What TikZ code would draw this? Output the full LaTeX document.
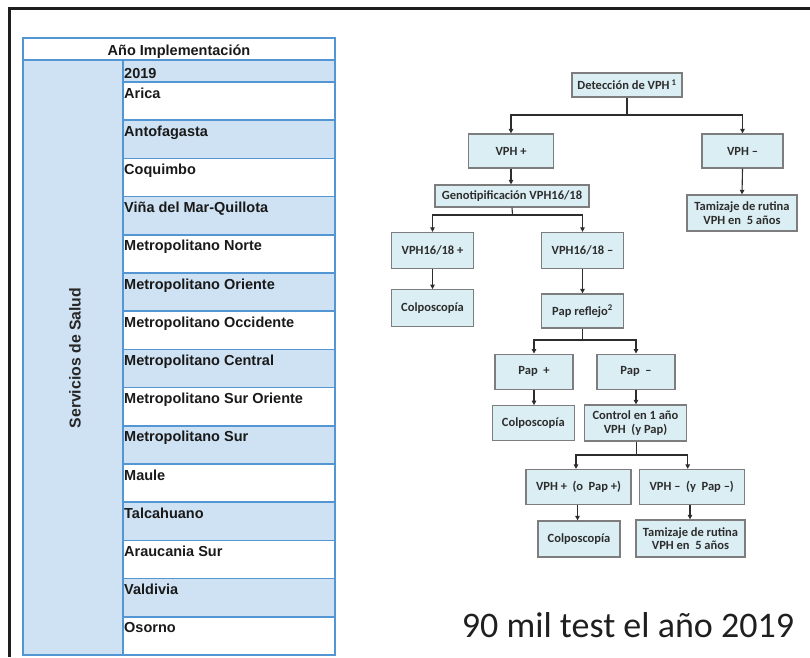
\documentclass[tikz,border=0pt]{standalone}
\usepackage{fontspec}
\setmainfont{Liberation Sans}
\newfontfamily\calfont{Carlito}
\usetikzlibrary{arrows.meta}
\definecolor{tblue}{RGB}{207,226,243}
\definecolor{tline}{RGB}{84,150,212}
\definecolor{fbfill}{RGB}{219,238,244}
\definecolor{fbline}{RGB}{125,125,125}
\definecolor{ftext}{RGB}{45,45,45}
\definecolor{conncol}{RGB}{45,45,45}
\definecolor{frame}{RGB}{30,30,30}
\begin{document}
\begin{tikzpicture}[x=1pt,y=-1pt,
  tcell/.style={inner sep=0pt,anchor=base west,font=\fontsize{14.5}{16}\selectfont\bfseries,text=black!90},
  fbox/.style={draw=fbline,fill=fbfill,line width=1.3pt,inner sep=1pt,align=center,
     font=\calfont\fontsize{12.5}{13.5}\selectfont\bfseries,text=ftext},
  conn/.style={draw=conncol,line width=1.1pt},
  arr/.style={conn,-{Triangle[length=4.5pt,width=4.5pt]}}]
\useasboundingbox (0,0) rectangle (810,657);
% outer frame
\draw[frame,line width=2.7pt] (9.7,657) -- (9.7,8.5) -- (810,8.5);
% table
\fill[white] (23,38) rectangle (335,60);
\fill[tblue] (23,60) rectangle (123,655);
\fill[tblue] (123,60) rectangle (335,82);
\foreach \n [count=\i from 0] in {Arica,Antofagasta,Coquimbo,Viña del Mar-Quillota,Metropolitano Norte,Metropolitano Oriente,Metropolitano Occidente,Metropolitano Central,Metropolitano Sur Oriente,Metropolitano Sur,Maule,Talcahuano,Araucania Sur,Valdivia,Osorno}{
  \pgfmathsetmacro\yt{82+38.2*\i}
  \ifodd\i \fill[tblue] (123,\yt) rectangle (335,\yt+38.2); \fi
  \node[tcell] (r\i) at (124,\yt+16) {\n};
}
\foreach \k in {0,...,14}{
  \draw[tline,line width=1.6pt] (123,82+38.2*\k) -- (335,82+38.2*\k);
}
\draw[tline,line width=1.8pt] (23,38) rectangle (335,655);
\draw[tline,line width=1.8pt] (23,60) -- (335,60);
\draw[tline,line width=1.8pt] (123,60) -- (123,655);
\node[tcell,anchor=base] (head) at (179,55) {Año Implementación};
\node[tcell] (year) at (124,78.5) {2019};
\node[font=\fontsize{15.8}{17}\selectfont\bfseries,text=black!85,rotate=90,inner sep=0pt] (serv) at (75,358) {Servicios de Salud};
% flowchart
\node[fbox,minimum width=110pt,minimum height=24pt] (det) at (627,85) {Detección de VPH\,\textsuperscript{1}};
\node[fbox,minimum width=85pt,minimum height=34pt] (vpos) at (511,151) {VPH +};
\node[fbox,minimum width=81pt,minimum height=34pt] (vneg) at (742.5,151) {VPH –};
\node[fbox,minimum width=154pt,minimum height=22pt] (geno) at (512,196) {Genotipificación VPH16/18};
\node[fbox,minimum width=110pt,minimum height=36pt] (tam1) at (742,213) {Tamizaje de rutina\\VPH en \ 5 años};
\node[fbox,minimum width=82pt,minimum height=36pt] (gp) at (432.5,250.5) {VPH16/18 +};
\node[fbox,minimum width=82pt,minimum height=36pt] (gn) at (582.5,250.5) {VPH16/18 –};
\node[fbox,minimum width=82pt,minimum height=37pt] (col1) at (432.5,308.3) {Colposcopía};
\node[fbox,minimum width=82pt,minimum height=34pt] (pref) at (582.5,311) {Pap reflejo\textsuperscript{2}};
\node[fbox,minimum width=78pt,minimum height=35pt] (papp) at (534,371.7) {Pap \ +};
\node[fbox,minimum width=78pt,minimum height=35pt] (papn) at (636,371.7) {Pap \ –};
\node[fbox,minimum width=82pt,minimum height=35pt] (col2) at (533.3,423.3) {Colposcopía};
\node[fbox,minimum width=102pt,minimum height=36pt] (ctrl) at (635.5,423) {Control en 1 año\\VPH \ (y Pap)};
\node[fbox,minimum width=105pt,minimum height=35pt] (vpo) at (578.5,487) {VPH + \ (o \ Pap +)};
\node[fbox,minimum width=105pt,minimum height=35pt] (vno) at (691.7,487) {VPH – \ (y \ Pap –)};
\node[fbox,minimum width=82pt,minimum height=36pt] (col3) at (579,539) {Colposcopía};
\node[fbox,minimum width=109pt,minimum height=37pt] (tam2) at (690.5,538.5) {Tamizaje de rutina\\VPH en \ 5 años};
% connectors
\coordinate (j1) at (627,115);
\coordinate (j2) at (512.5,215);
\coordinate (j3) at (582.5,340);
\coordinate (j4) at (636.5,455);
\draw[conn] (det.south) -- (j1);
\draw[arr] (j1) -| (vpos.north);
\draw[arr] (j1) -| (vneg.north);
\draw[arr] (vpos.south) -- (vpos.south |- geno.north);
\draw[arr] (vneg.south) -- (tam1.north);
\draw[conn] (geno.south) -- (j2);
\draw[arr] (j2) -| (gp.north);
\draw[arr] (j2) -| (gn.north);
\draw[arr] (gp.south) -- (col1.north);
\draw[arr] (gn.south) -- (pref.north);
\draw[conn] (pref.south) -- (j3);
\draw[arr] (j3) -| (papp.north);
\draw[arr] (j3) -| (papn.north);
\draw[arr] (papp.south) -- (papp.south |- col2.north);
\draw[arr] (papn.south) -- (papn.south |- ctrl.north);
\draw[conn] (ctrl.south -| j4) -- (j4);
\draw[arr] (j4) -| ([xshift=-2.5pt]vpo.north);
\draw[arr] (j4) -| ([xshift=-4pt]vno.north);
\draw[arr] ([xshift=-1pt]vpo.south) -- ([xshift=-1pt]vpo.south |- col3.north);
\draw[arr] ([xshift=-1.7pt]vno.south) -- ([xshift=-1.7pt]vno.south |- tam2.north);
% caption
\node[font=\calfont\fontsize{36}{40}\selectfont,text=black!88,anchor=base,inner sep=0pt] (cap) at (628,637) {90 mil test el año 2019};
\end{tikzpicture}
\end{document}
